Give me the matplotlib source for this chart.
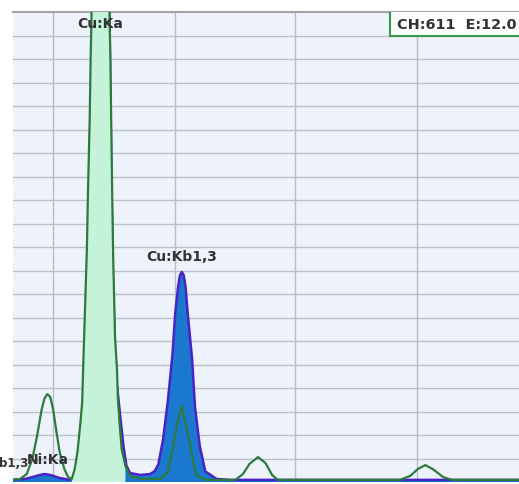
import matplotlib
matplotlib.use("Agg")
import matplotlib.pyplot as plt
from matplotlib.patches import Rectangle

# ----------------------------
# Data (energy keV, counts in grid units)
# ----------------------------

green_energy = [7.11, 7.19, 7.26, 7.32, 7.37, 7.42, 7.45, 7.48, 7.51, 7.54,
                7.58, 7.61, 7.66, 7.70, 7.74, 7.77, 7.80, 7.83, 7.85, 7.86,
                7.88, 7.90, 7.91, 7.93, 7.94, 7.95, 8.00, 8.05, 8.10, 8.14,
                8.15, 8.17, 8.18, 8.20, 8.22, 8.23, 8.25, 8.27, 8.31, 8.36,
                8.47, 8.68, 8.76, 8.82, 8.86, 8.91, 8.95, 9.00, 9.04, 9.07,
                9.16, 9.48, 9.56, 9.63, 9.72, 9.80, 9.87, 9.93, 11.23, 11.34,
                11.42, 11.50, 11.58, 11.69, 11.78, 12.50]
green_counts = [0.09, 0.13, 0.34, 0.98, 1.96, 3.11, 3.57, 3.74, 3.62, 3.11,
                2.04, 1.28, 0.55, 0.21, 0.13, 0.55, 1.28, 2.47, 3.40, 4.81,
                7.36, 9.91, 12.04, 15.45, 18.0, 20.0, 23.5, 26.0, 23.5, 20.0,
                18.0, 12.04, 9.49, 6.09, 4.81, 3.53, 2.38, 1.40, 0.68, 0.26,
                0.13, 0.13, 0.43, 1.53, 2.47, 3.23, 2.47, 1.53, 0.64, 0.26,
                0.09, 0.09, 0.34, 0.77, 1.06, 0.81, 0.30, 0.09, 0.09, 0.26,
                0.55, 0.72, 0.55, 0.21, 0.09, 0.09]

blue_energy = [7.11, 7.24, 7.32, 7.40, 7.45, 7.51, 7.61, 7.72, 7.78, 7.81,
               7.84, 7.86, 7.88, 7.90, 7.92, 7.94, 7.96, 8.05, 8.14, 8.16,
               8.18, 8.21, 8.26, 8.29, 8.32, 8.36, 8.47, 8.57, 8.62, 8.66,
               8.71, 8.76, 8.81, 8.84, 8.87, 8.89, 8.91, 8.93, 8.95, 8.97,
               9.02, 9.05, 9.10, 9.16, 9.28, 9.42, 12.50]
blue_counts = [0.09, 0.13, 0.21, 0.30, 0.34, 0.30, 0.17, 0.09, 0.15, 0.60,
               1.80, 3.50, 6.00, 8.50, 12.0, 16.0, 20.0, 30.0, 20.0, 13.0,
               8.0, 4.5, 2.6, 1.5, 0.7, 0.38, 0.30, 0.34, 0.45, 0.75,
               1.80, 3.40, 5.40, 7.20, 8.30, 8.80, 8.94, 8.80, 8.30, 7.30,
               5.20, 3.20, 1.55, 0.45, 0.13, 0.09, 0.09]

# region of interest shaded under the green Cu Ka peak
roi_range = (7.73, 8.32)

grid_energy = [7.54, 8.84, 10.11, 11.41]
grid_counts = list(range(1, 20))

labels = ["Cu:Ka", "Cu:Kb1,3", "Ni:Ka"]
label_energy = [8.04, 8.91, 7.48]
label_counts = [19.55, 9.6, 0.98]
cut_label = "b1,3"
cursor_text = "CH:611  E:12.0"

# ----------------------------
# Plot
# ----------------------------

W, H = 519, 485
fig = plt.figure(figsize=(W / 100, H / 100), dpi=100)
fig.patch.set_facecolor("white")
ax = fig.add_axes([13 / W, 2 / H, (W - 13) / W, 470 / H])
ax.set_facecolor("#eef2fb")
ax.set_xlim(7.114, 12.497)
ax.set_ylim(0, 20)

for e in grid_energy:
    ax.axvline(e, color="#b8bcc6", lw=1.0, zorder=1)
for c in grid_counts:
    ax.axhline(c, color="#bcc0ca", lw=1.0, zorder=1)

# blue spectrum (filled)
ax.fill_between(blue_energy, 0, blue_counts, color="#1a78cf", zorder=2, lw=0)
ax.plot(blue_energy, blue_counts, color="#4a22c8", lw=1.8, zorder=3)

# green spectrum with ROI fill
roi_e = [e for e in green_energy if roi_range[0] <= e <= roi_range[1]]
roi_c = [c for e, c in zip(green_energy, green_counts) if roi_range[0] <= e <= roi_range[1]]
ax.fill_between(roi_e, 0, roi_c, color="#c4f3da", zorder=4, lw=0)
ax.plot(green_energy, green_counts, color="#2c7a3c", lw=1.6, zorder=5)

for s in ["left", "right", "bottom"]:
    ax.spines[s].set_visible(False)
ax.spines["top"].set_color("#a4a4a4")
ax.spines["top"].set_linewidth(1.5)
ax.set_xticks([])
ax.set_yticks([])

for txt, e, c in zip(labels, label_energy, label_counts):
    ax.text(e, c, txt, ha="center", va="center", fontsize=10, fontweight="bold",
            color="#333333", zorder=6, clip_on=False)
fig.text(28 / W, (H - 464) / H, cut_label, ha="right", va="center",
         fontsize=8.5, fontweight="bold", color="#333333", zorder=6)

# cursor readout box
box = Rectangle((390 / W, (H - 37) / H), (W - 390) / W, 24 / H,
                transform=fig.transFigure, facecolor="white", edgecolor="none",
                zorder=7)
fig.patches.append(box)
fig.lines.append(plt.Line2D([390 / W, 390 / W], [(H - 14) / H, (H - 37) / H],
                            transform=fig.transFigure, color="#3a9a4a", lw=1.5,
                            zorder=8))
fig.lines.append(plt.Line2D([390 / W, 1], [(H - 37) / H, (H - 37) / H],
                            transform=fig.transFigure, color="#3a9a4a", lw=1.5,
                            zorder=8))
fig.text(397 / W, (H - 25) / H, cursor_text, ha="left", va="center",
         fontsize=10.4, fontweight="bold", color="#333333", zorder=9)

fig.savefig("out.png", dpi=100)
